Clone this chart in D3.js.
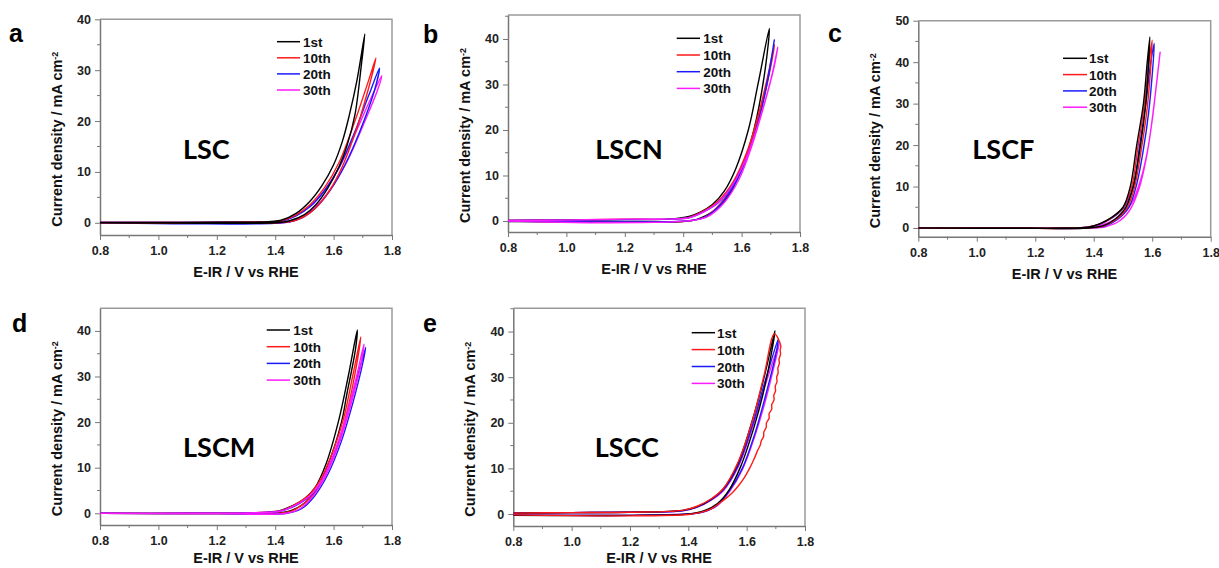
<!DOCTYPE html>
<html>
<head>
<meta charset="utf-8">
<script src="https://cdn.jsdelivr.net/npm/d3@7"></script>
<style>
  body { margin: 0; background: #fff; }
  svg { display: block; }
  text { font-family: "Liberation Sans", Arial, sans-serif; }
</style>
</head>
<body>
<svg id="chart" width="1219" height="568"></svg>
<script>
// cycle names shown in every legend
const cycleNames = ["1st", "10th", "20th", "30th"];

// LSC, one loop per cycle: forward sweep out to the tip, then back to 0.8 V
const lsc_1st  = [[0.8,0.05],[1.0,0.05],[1.2,0.1],[1.35,0.15],[1.42,0.5],[1.47,1.8],[1.52,4.3],[1.56,7.3],[1.60,11.4],[1.63,16],[1.654,21.2],[1.68,28],[1.707,37.1],
                  [1.695,31],[1.673,21.2],[1.645,15],[1.62,11.2],[1.58,6.8],[1.54,3.6],[1.50,1.6],[1.45,0.4],[1.40,0],[1.2,-0.1],[1.0,-0.05],[0.8,0]];
const lsc_10th = [[0.8,0.05],[1.0,0.05],[1.3,0.15],[1.42,0.4],[1.47,1.5],[1.52,3.6],[1.57,7],[1.62,12],[1.67,19.5],[1.72,28],[1.745,32.4],
                  [1.72,26.5],[1.67,17],[1.62,9.8],[1.57,5],[1.52,2],[1.47,0.5],[1.42,0.05],[1.2,-0.1],[0.8,0]];
const lsc_20th = [[0.8,0.05],[1.0,0.05],[1.3,0.15],[1.42,0.3],[1.47,1.3],[1.52,3.2],[1.57,6.4],[1.62,11],[1.67,17.5],[1.72,25],[1.757,30.4],
                  [1.74,26],[1.69,18],[1.64,11.5],[1.59,6.5],[1.54,3],[1.49,0.9],[1.44,0.1],[1.1,-0.2],[1.05,-0.2],[0.8,0]];
const lsc_30th = [[0.8,0.05],[1.0,0.05],[1.3,0.15],[1.42,0.35],[1.47,1.4],[1.52,3.3],[1.57,6.5],[1.62,11],[1.67,17],[1.72,23.5],[1.765,28.9],
                  [1.75,26],[1.70,19],[1.65,12.5],[1.60,7.5],[1.55,3.8],[1.50,1.3],[1.45,0.2],[1.2,-0.05],[0.8,0]];

// LSCN
const lscn_1st  = [[0.8,0.1],[1.0,0.2],[1.2,0.3],[1.35,0.4],[1.42,1],[1.46,2],[1.50,3.6],[1.54,6.5],[1.58,11.5],[1.623,20],[1.656,30],[1.695,42.3],
                   [1.68,33],[1.642,20],[1.60,11.5],[1.55,5],[1.50,2],[1.45,0.4],[1.40,-0.1],[1.2,-0.2],[0.8,-0.1]];
const lscn_10th = [[0.8,0.1],[1.0,0.2],[1.2,0.4],[1.35,0.4],[1.42,0.8],[1.47,2.2],[1.52,4.4],[1.57,8.5],[1.62,15.5],[1.66,24],[1.69,32],[1.713,38.8],
                   [1.70,34],[1.67,25.5],[1.63,16.5],[1.58,9],[1.53,4],[1.48,1.1],[1.43,0.1],[1.2,-0.2],[0.8,0]];
const lscn_20th = [[0.8,0.1],[1.0,0.2],[1.2,0.3],[1.35,0.4],[1.42,0.7],[1.47,2],[1.52,4],[1.57,8],[1.62,14.5],[1.66,22.5],[1.69,31],[1.712,39.8],
                   [1.70,35],[1.67,25],[1.63,16],[1.58,8.5],[1.53,3.8],[1.48,1],[1.43,0.1],[1.2,-0.2],[0.8,0]];
const lscn_30th = [[0.8,0.1],[1.0,0.2],[1.2,0.4],[1.35,0.4],[1.42,0.7],[1.47,2],[1.52,4.1],[1.57,8],[1.62,14.5],[1.66,22],[1.70,31],[1.724,38.2],
                   [1.71,33.5],[1.675,25],[1.635,16.5],[1.59,9],[1.54,4],[1.49,1.2],[1.44,0.2],[1.1,-0.4],[1.07,-0.4],[0.8,0]];

// LSCF
const lscf_1st  = [[0.8,0],[1.1,0],[1.3,0],[1.38,0.2],[1.42,1],[1.46,2.5],[1.50,5],[1.525,10],[1.547,20],[1.570,30],[1.583,40],[1.592,46.1],
                   [1.588,40],[1.578,30],[1.56,20],[1.535,10],[1.51,5],[1.47,2],[1.43,0.5],[1.38,0],[1.2,-0.1],[0.8,0]];
const lscf_10th = [[0.8,0],[1.1,0],[1.3,0],[1.38,0.2],[1.42,1],[1.46,2.4],[1.50,4.8],[1.53,10],[1.552,20],[1.574,30],[1.589,40],[1.600,45.3],
                   [1.594,38],[1.583,29],[1.565,20],[1.54,10],[1.515,5],[1.475,2],[1.43,0.4],[1.38,0],[1.2,-0.1],[0.8,0]];
const lscf_20th = [[0.8,0],[1.1,0],[1.3,0],[1.38,0.2],[1.42,0.9],[1.46,2.3],[1.50,4.6],[1.535,10],[1.557,20],[1.578,30],[1.595,40],[1.607,44.5],
                   [1.60,37],[1.588,28],[1.57,19],[1.545,10],[1.52,5],[1.48,2],[1.435,0.4],[1.38,0],[1.2,-0.1],[0.8,0]];
const lscf_30th = [[0.8,0],[1.1,0],[1.3,0],[1.38,0.2],[1.42,0.6],[1.46,1.6],[1.50,3.4],[1.53,6],[1.56,11.5],[1.585,19],[1.605,29],[1.62,38],[1.627,42.4],
                   [1.615,35],[1.60,26],[1.58,17],[1.555,9.5],[1.525,4.5],[1.49,1.8],[1.44,0.3],[1.38,0],[1.2,-0.1],[0.8,0]];

// LSCM
const lscm_1st  = [[0.8,0],[1.1,0],[1.3,0.1],[1.40,0.3],[1.45,1.4],[1.50,3.2],[1.535,5.5],[1.575,11],[1.616,20],[1.65,30],[1.681,40.2],
                   [1.675,36],[1.645,26],[1.627,20],[1.58,10.5],[1.54,5],[1.50,2.2],[1.45,0.5],[1.40,0],[1.2,-0.05],[0.8,0]];
const lscm_10th = [[0.8,0],[1.1,0],[1.3,0.1],[1.42,0.6],[1.47,2],[1.52,4.3],[1.56,8],[1.60,14],[1.635,21],[1.665,30],[1.693,38.7],
                   [1.68,33],[1.645,22],[1.60,12.5],[1.555,6.5],[1.51,2.8],[1.46,0.6],[1.41,0],[1.2,-0.05],[0.8,0]];
const lscm_20th = [[0.8,0],[1.1,0],[1.3,0.1],[1.42,0.5],[1.47,1.7],[1.52,3.8],[1.56,7],[1.60,12.5],[1.64,20],[1.675,28.5],[1.71,36.4],
                   [1.70,33],[1.665,24],[1.625,15.5],[1.58,8.5],[1.535,3.8],[1.49,1],[1.44,0],[1.2,-0.05],[0.8,0]];
const lscm_30th = [[0.8,0],[1.1,0],[1.3,0.1],[1.42,0.5],[1.47,1.8],[1.52,3.9],[1.56,7.3],[1.60,13],[1.64,20.5],[1.675,29],[1.704,37.1],
                   [1.695,33],[1.66,24],[1.62,15.5],[1.575,8.5],[1.53,3.8],[1.485,1],[1.44,0],[1.2,-0.05],[0.8,0]];

// LSCC (the 10th cycle is noisy on the way back)
const lscc_1st  = [[0.8,0.2],[1.0,0.3],[1.2,0.4],[1.38,0.8],[1.43,1.6],[1.48,3.3],[1.52,5.5],[1.57,11],[1.617,20],[1.66,30],[1.697,40.2],
                   [1.69,37],[1.655,26],[1.625,19],[1.58,10.5],[1.54,5.3],[1.50,2.3],[1.45,0.6],[1.40,0],[1.2,-0.3],[0.8,-0.3]];
const lscc_10th = [[0.8,0.2],[1.0,0.3],[1.2,0.4],[1.38,0.8],[1.43,1.7],[1.48,3.4],[1.52,5.6],[1.57,11.3],[1.62,20.5],[1.66,30.5],[1.695,39.5],
                   [1.717,36.9],[1.715,36],[1.716,35],[1.711,34],[1.712,33],[1.707,32],[1.708,31],[1.703,30],[1.704,29],[1.698,28],[1.699,27],
                   [1.693,26],[1.694,25],[1.686,24],[1.686,23],[1.677,22],[1.677,21],[1.668,20],[1.667,19],[1.659,18],[1.658,17],[1.650,16],
                   [1.646,15],[1.638,14],[1.625,12],[1.61,10],[1.592,8],[1.572,6.2],[1.55,4.6],[1.52,3],[1.48,1.2],[1.44,0.3],[1.40,-0.1],[1.2,-0.4],[0.8,-0.2]];
const lscc_20th = [[0.8,0.2],[1.0,0.3],[1.2,0.4],[1.38,0.7],[1.43,1.5],[1.48,3.2],[1.52,5.3],[1.57,10.5],[1.62,19.5],[1.665,29.5],[1.709,38.5],
                   [1.70,35],[1.665,26],[1.63,18],[1.585,10],[1.54,5],[1.50,2],[1.45,0.4],[1.40,0],[1.2,-0.3],[0.8,-0.2]];
const lscc_30th = [[0.8,0.2],[1.0,0.3],[1.2,0.4],[1.38,0.7],[1.43,1.5],[1.48,3.1],[1.52,5.1],[1.57,10.2],[1.62,19],[1.665,28.5],[1.712,37.5],
                   [1.70,34],[1.665,25],[1.63,17.5],[1.585,9.7],[1.54,4.8],[1.50,1.9],[1.45,0.4],[1.40,0],[1.2,-0.3],[0.8,-0.2]];

const xTicks = [0.8, 1.0, 1.2, 1.4, 1.6, 1.8];
const yTicks40 = [0, 10, 20, 30, 40];
const yTicks50 = [0, 10, 20, 30, 40, 50];

const colors = ["#000000", "#ff1a1a", "#1a1aff", "#ff1aff"];

// panel frames in pixels; draw order lets the red LSCC loop sit on top
const panels = [
  {letter: "a", name: "LSC",  cycles: [lsc_1st, lsc_10th, lsc_20th, lsc_30th],     yMin: -2.4, yMax: 40,   yTicks: yTicks40,
   left: 100,   right: 392,   top: 19.3,  bottom: 235, titleGap: 42, letterPos: [9, 42],    namePos: [206.3, 159.3], leg: [277, 300, 303, 41.7, 16.1], order: [3, 2, 1, 0]},
  {letter: "b", name: "LSCN", cycles: [lscn_1st, lscn_10th, lscn_20th, lscn_30th], yMin: -2.42, yMax: 45.27, yTicks: yTicks40,
   left: 508,   right: 800,   top: 15,    bottom: 232, titleGap: 42, letterPos: [423, 43],  namePos: [629, 159.3],   leg: [676.7, 700, 703.3, 38.3, 16.7], order: [0, 1, 2, 3]},
  {letter: "c", name: "LSCF", cycles: [lscf_1st, lscf_10th, lscf_20th, lscf_30th], yMin: -2.1, yMax: 50,   yTicks: yTicks50,
   left: 918.3, right: 1210.7, top: 20.7, bottom: 236.7, titleGap: 42, letterPos: [828, 42], namePos: [1003.3, 159.3], leg: [1063, 1087, 1089, 58.3, 16.3], order: [3, 2, 1, 0]},
  {letter: "d", name: "LSCM", cycles: [lscm_1st, lscm_10th, lscm_20th, lscm_30th], yMin: -2.57, yMax: 44.96, yTicks: yTicks40,
   left: 100,   right: 392,   top: 308.3, bottom: 525, titleGap: 38, letterPos: [12, 332],  namePos: [219.2, 456.7], leg: [266.7, 290, 293.3, 330, 16.7], order: [0, 1, 2, 3]},
  {letter: "e", name: "LSCC", cycles: [lscc_1st, lscc_10th, lscc_20th, lscc_30th], yMin: -2.63, yMax: 45.1, yTicks: yTicks40,
   left: 513.3, right: 805,   top: 308.3, bottom: 526, titleGap: 37, letterPos: [423, 332], namePos: [626.7, 456.7], leg: [691.7, 715, 717, 332.7, 16.9], order: [3, 2, 0, 1]}
];

const svg = d3.select("#chart");

panels.forEach((p, pi) => {
  const x = d3.scaleLinear().domain([0.8, 1.8]).range([p.left, p.right]);
  const y = d3.scaleLinear().domain([p.yMin, p.yMax]).range([p.bottom, p.top]);
  const g = svg.append("g");

  const clipId = "clip" + pi;
  g.append("clipPath").attr("id", clipId).append("rect")
    .attr("x", p.left).attr("y", p.top)
    .attr("width", p.right - p.left).attr("height", p.bottom - p.top);

  // frame top/right
  g.append("path")
    .attr("d", `M${p.left},${p.top}H${p.right}V${p.bottom}`)
    .attr("fill", "none").attr("stroke", "#9a9a9a").attr("stroke-width", 1.5);

  // minor ticks
  const xMinor = d3.range(0.9, 1.8, 0.2);
  const yMinor = p.yTicks.map(t => t + 5).filter(t => t < p.yMax);

  const xAxis = g.append("g").attr("transform", `translate(0,${p.bottom})`)
    .call(d3.axisBottom(x).tickValues(xTicks).tickFormat(d3.format(".1f")).tickSize(5).tickSizeOuter(0).tickPadding(4));
  xAxis.selectAll(".minor").data(xMinor).enter().append("line")
    .attr("class", "minor").attr("x1", d => x(d)).attr("x2", d => x(d))
    .attr("y1", 0).attr("y2", 3).attr("stroke", "#777");

  const yAxis = g.append("g").attr("transform", `translate(${p.left},0)`)
    .call(d3.axisLeft(y).tickValues(p.yTicks).tickFormat(d3.format("d")).tickSize(5).tickSizeOuter(0).tickPadding(4));
  yAxis.selectAll(".minor").data(yMinor).enter().append("line")
    .attr("class", "minor").attr("y1", d => y(d)).attr("y2", d => y(d))
    .attr("x1", 0).attr("x2", -3).attr("stroke", "#777");

  [xAxis, yAxis].forEach(ax => {
    ax.select(".domain").attr("stroke", "#777").attr("stroke-width", 1.5);
    ax.selectAll(".tick line").attr("stroke", "#777");
    ax.selectAll(".tick text")
      .attr("fill", "#222")
      .style("font-size", "12.5px").style("font-weight", "bold")
      .style("font-family", "'Liberation Sans', Arial, sans-serif");
  });
  xAxis.selectAll(".tick text").attr("dy", "0.9em");

  // axis titles
  g.append("text")
    .attr("x", (p.left + p.right) / 2).attr("y", p.bottom + p.titleGap)
    .attr("text-anchor", "middle")
    .style("font-size", "14.5px").style("font-weight", "bold").attr("fill", "#111")
    .text("E-IR / V vs RHE");

  const yt = g.append("text")
    .attr("transform", `translate(${p.left - 38},${(p.top + p.bottom) / 2 + 12}) rotate(-90)`)
    .attr("text-anchor", "middle")
    .style("font-size", "14.5px").style("font-weight", "bold").attr("fill", "#111");
  yt.append("tspan").text("Current density / mA cm");
  yt.append("tspan").attr("dy", "-0.5em").style("font-size", "9px").text("-2");

  // curves
  const line = d3.line().x(d => x(d[0])).y(d => y(d[1])).curve(d3.curveCatmullRom.alpha(0.5));
  const curves = g.append("g").attr("clip-path", `url(#${clipId})`);
  p.order.forEach(ci => {
    curves.append("path")
      .datum(p.cycles[ci])
      .attr("d", line)
      .attr("fill", "none")
      .attr("stroke", colors[ci])
      .attr("stroke-width", 1.4)
      .attr("stroke-linejoin", "round");
  });

  // legend
  const [lx0, lx1, tx, ly0, dy] = p.leg;
  cycleNames.forEach((nm, i) => {
    const ly = ly0 + i * dy;
    g.append("line").attr("x1", lx0).attr("x2", lx1).attr("y1", ly).attr("y2", ly)
      .attr("stroke", colors[i]).attr("stroke-width", 1.5);
    g.append("text").attr("x", tx).attr("y", ly + 5)
      .style("font-size", "13.5px").style("font-weight", "bold").attr("fill", "#111")
      .text(nm);
  });

  // sample name
  g.append("text")
    .attr("x", p.namePos[0]).attr("y", p.namePos[1])
    .attr("text-anchor", "middle")
    .style("font-family", "Lato, 'Open Sans', sans-serif")
    .style("font-size", "27px").style("font-weight", "bold").attr("fill", "#000")
    .text(p.name);

  // panel letter
  svg.append("text")
    .attr("x", p.letterPos[0]).attr("y", p.letterPos[1])
    .style("font-size", "25px").style("font-weight", "bold").attr("fill", "#000")
    .text(p.letter);
});
</script>
</body>
</html>
